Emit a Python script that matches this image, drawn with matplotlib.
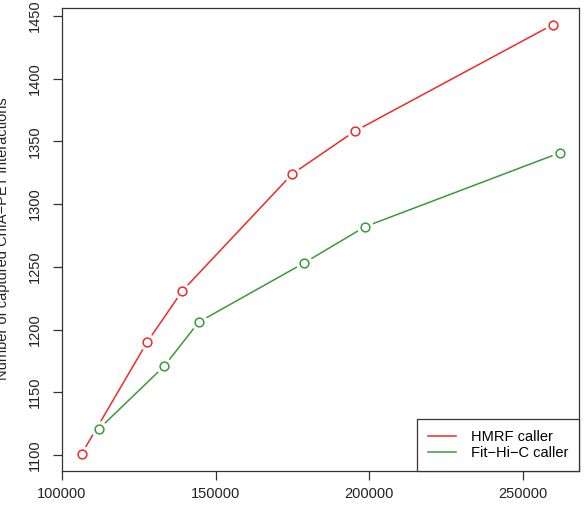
import matplotlib
matplotlib.use("Agg")
import matplotlib.pyplot as plt

plt.rcParams['font.family'] = ['Liberation Sans', 'DejaVu Sans']

hmrf_x = [106400, 127700, 139200, 174900, 195200, 259700]
hmrf_y = [1101, 1190, 1231, 1324, 1358, 1443]
fithic_x = [112100, 133300, 144500, 178700, 198600, 262100]
fithic_y = [1121, 1171, 1206, 1253, 1282, 1341]
series_labels = ["HMRF caller", "Fit\u2212Hi\u2212C caller"]
x_ticks = [100000, 150000, 200000, 250000]
y_ticks = [1100, 1150, 1200, 1250, 1300, 1350, 1400, 1450]
y_label = "Number of captured ChIA\u2212PET interactions"

W, H = 587, 515
fig = plt.figure(figsize=(W / 100, H / 100), dpi=100)
ax = fig.add_axes([62 / W, (H - 471) / H, (579 - 62) / W, (471 - 7.5) / H])

red = '#EE2A2A'
green = '#3A9A3A'

for xs, ys, c, lab in [(hmrf_x, hmrf_y, red, series_labels[0]),
                       (fithic_x, fithic_y, green, series_labels[1])]:
    ax.plot(xs, ys, color=c, lw=1.1, label=lab, zorder=2)
    ax.plot(xs, ys, ls='none', marker='o', ms=11, mfc='white', mec='white', zorder=3)
    ax.plot(xs, ys, ls='none', marker='o', ms=6.3, mfc='none', mec=c, mew=1.1, zorder=4)

ax.set_xlim(100176, 268224)
ax.set_ylim(1087.3, 1456.7)
ax.set_xticks(x_ticks)
ax.set_xticklabels([str(v) for v in x_ticks])
ax.set_yticks(y_ticks)
ax.set_yticklabels([str(v) for v in y_ticks], rotation=90, va='center')

for s in ax.spines.values():
    s.set_color('#333333')
    s.set_linewidth(0.9)
ax.tick_params(axis='both', colors='#333333', labelcolor='#222222', labelsize=10.5,
               length=6.5, width=0.9)
ax.tick_params(axis='x', pad=5)
ax.tick_params(axis='y', pad=8.3)

fig.text(10 / W, 1 - 239 / H, y_label, rotation=90, ha='right', va='center',
         fontsize=10.5, color='#222222')

leg = ax.legend(loc='lower right', borderaxespad=0, fancybox=False, framealpha=1,
                edgecolor='#333333', fontsize=10.5, handlelength=1.9,
                handletextpad=1.0, labelspacing=0.15, borderpad=0.75)
leg.get_frame().set_linewidth(0.9)

fig.savefig("out.png", dpi=100)
